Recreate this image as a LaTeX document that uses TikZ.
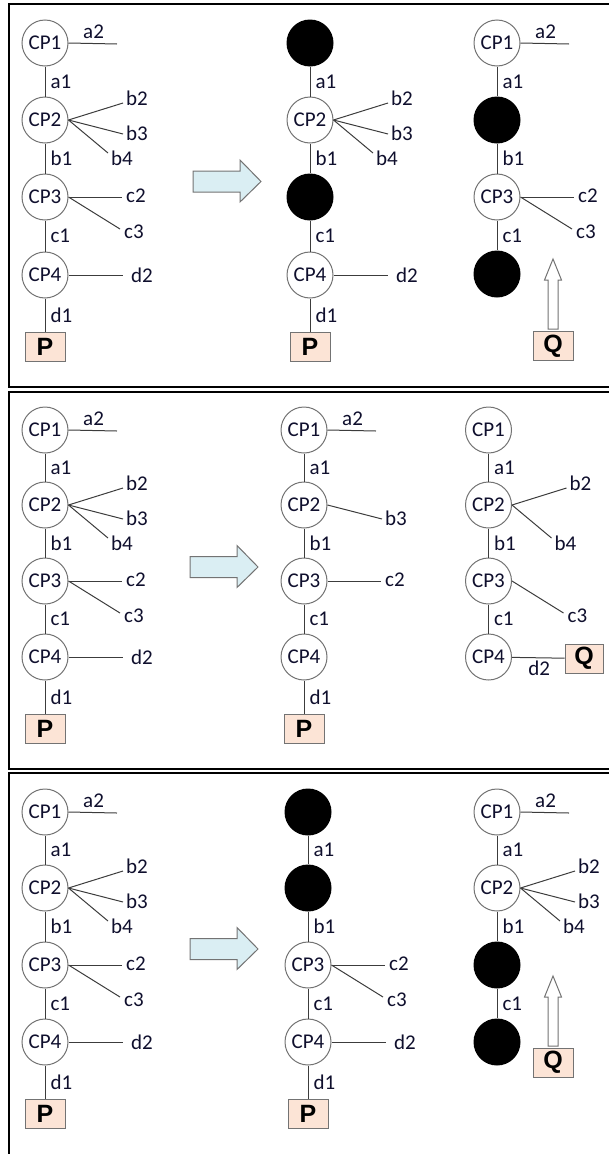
\documentclass[tikz,border=0pt]{standalone}
\usepackage{fontspec}
\setmainfont{Carlito}
\newfontfamily\bxfamily{Liberation Sans}
\usetikzlibrary{calc}
\definecolor{tcol}{RGB}{15,15,45}
\definecolor{cgray}{RGB}{115,115,115}
\definecolor{lgray}{RGB}{60,60,60}
\definecolor{peach}{RGB}{252,228,214}
\definecolor{lblue}{RGB}{218,238,243}
\newcommand\lbfont{\fontsize{21}{25}\selectfont}
\newcommand\bxfont{\bxfamily\bfseries\fontsize{25}{30}\selectfont}
\tikzset{
  cp/.style={circle, draw=cgray, line width=1pt, fill=white, minimum size=46pt, inner sep=0pt, text=tcol, font=\lbfont},
  blk/.style={circle, fill=black, minimum size=47pt, inner sep=0pt},
  lbl/.style={text=tcol, font=\lbfont, inner sep=1pt},
  ln/.style={draw=lgray, line width=1pt},
  pbox/.style={draw=cgray, line width=1pt, fill=peach, minimum width=40pt, minimum height=29pt, inner sep=0pt, font=\bxfont},
  barrow/.style={draw=cgray, line width=1pt, fill=lblue, line join=miter},
  uarrow/.style={draw=cgray, line width=1pt, fill=white, line join=miter},
  frame/.style={draw=black, line width=1.2pt}
}
% branch: node, id, end offset, label offset, text
\newcommand\br[5]{\coordinate (#2) at ($(#1)+(#3)$); \draw[ln] (#1.east) -- (#2); \node[lbl,anchor=west] (#2t) at ($(#1)+(#4)$) {#5};}
\newcommand\bA[2]{\br{#1}{#2}{72,1}{37,-11}{a2}}
\newcommand\bB[2]{\br{#1}{#2}{78,-17}{80,-22}{b2}}
\newcommand\bC[2]{\br{#1}{#2}{78,14}{80,13}{b3}}
\newcommand\bD[2]{\br{#1}{#2}{63,33}{65,38}{b4}}
\newcommand\bE[2]{\br{#1}{#2}{77,0}{80,-1}{c2}}
\newcommand\bF[2]{\br{#1}{#2}{75,32}{78,35}{c3}}
\newcommand\bG[2]{\br{#1}{#2}{78,0}{85,0}{d2}}
\newcommand\vl[3]{\draw[ln] (#1) -- node[lbl,anchor=west,xshift=4pt] (#1#2t) {#3} (#2);}
\newcommand\bigarrow[2]{\draw[barrow, shift={(#1,#2)}] (0,-10.5) -- (47,-10.5) -- (47,-21.5) -- (68,0) -- (47,20.5) -- (47,10.5) -- (0,10.5) -- cycle;}
\newcommand\uparr[2]{\draw[uarrow, shift={(#1,#2)}] (-5,0) -- (5,0) -- (5,-49) -- (8.5,-49) -- (0,-70) -- (-8.5,-49) -- (-5,-49) -- cycle;}
\begin{document}
\begin{tikzpicture}[x=1pt,y=-1pt]
\useasboundingbox (0,0) rectangle (609,1154);
% frames
\draw[frame] (615,4) -- (9,4) -- (9,387) -- (615,387);
\draw[frame] (615,392) -- (9,392) -- (9,769) -- (615,769);
\draw[frame] (615,773) -- (9,773) -- (9,1160);

% ===== Panel 1 =====
\node[cp] (A1) at (45,43) {CP1};
\node[cp] (A2) at (45,120) {CP2};
\node[cp] (A3) at (45,197) {CP3};
\node[cp] (A4) at (45,275) {CP4};
\node[pbox] (AP) at (45,346.5) {P};
\vl{A1}{A2}{a1}\vl{A2}{A3}{b1}\vl{A3}{A4}{c1}\vl{A4}{AP}{d1}
\bA{A1}{Aa}\bB{A2}{Ab}\bC{A2}{Ac}\bD{A2}{Ad}\bE{A3}{Ae}\bF{A3}{Af}\bG{A4}{Ag}

\bigarrow{193}{181.5}

\node[blk] (B1) at (310,43) {};
\node[cp] (B2) at (310,120) {CP2};
\node[blk] (B3) at (310,197) {};
\node[cp] (B4) at (310,275) {CP4};
\node[pbox] (BP) at (310,346.5) {P};
\vl{B1}{B2}{a1}\vl{B2}{B3}{b1}\vl{B3}{B4}{c1}\vl{B4}{BP}{d1}
\bB{B2}{Bb}\bC{B2}{Bc}\bD{B2}{Bd}\bG{B4}{Bg}

\node[cp] (C1) at (497,43) {CP1};
\node[blk] (C2) at (497,120) {};
\node[cp] (C3) at (497,197) {CP3};
\node[blk] (C4) at (497,274) {};
\vl{C1}{C2}{a1}\vl{C2}{C3}{b1}\vl{C3}{C4}{c1}
\bA{C1}{Ca}\bE{C3}{Ce}\bF{C3}{Cf}
\uparr{553}{329}
\node[pbox] (CQ) at (553,346) {Q};

% ===== Panel 2 =====
\node[cp] (D1) at (45,430) {CP1};
\node[cp] (D2) at (45,505) {CP2};
\node[cp] (D3) at (45,581) {CP3};
\node[cp] (D4) at (45,657) {CP4};
\node[pbox] (DP) at (45,728.5) {P};
\vl{D1}{D2}{a1}\vl{D2}{D3}{b1}\vl{D3}{D4}{c1}\vl{D4}{DP}{d1}
\bA{D1}{Da}\bB{D2}{Db}\bC{D2}{Dc}\bD{D2}{Dd}\bE{D3}{De}\bF{D3}{Df}\bG{D4}{Dg}

\bigarrow{190}{567}

\node[cp] (E1) at (304,430) {CP1};
\node[cp] (E2) at (304,505) {CP2};
\node[cp] (E3) at (304,581) {CP3};
\node[cp] (E4) at (304,657) {CP4};
\node[pbox] (EP) at (304,728.5) {P};
\vl{E1}{E2}{a1}\vl{E2}{E3}{b1}\vl{E3}{E4}{c1}\vl{E4}{EP}{d1}
\bA{E1}{Ea}\bC{E2}{Ec}\bE{E3}{Ee}

\node[cp] (F1) at (488.5,430) {CP1};
\node[cp] (F2) at (488.5,505) {CP2};
\node[cp] (F3) at (488.5,581) {CP3};
\node[cp] (F4) at (488.5,657) {CP4};
\node[pbox,minimum width=38pt] (FQ) at (584,658.5) {Q};
\vl{F1}{F2}{a1}\vl{F2}{F3}{b1}\vl{F3}{F4}{c1}
\bB{F2}{Fb}\bD{F2}{Fd}\bF{F3}{Ff}
\draw[ln] (F4) -- node[lbl,below,xshift=1pt,yshift=-2pt] (F4FQt) {d2} (FQ);

% ===== Panel 3 =====
\node[cp] (G1) at (45,812) {CP1};
\node[cp] (G2) at (45,888) {CP2};
\node[cp] (G3) at (45,965) {CP3};
\node[cp] (G4) at (45,1042) {CP4};
\node[pbox] (GP) at (45,1114) {P};
\vl{G1}{G2}{a1}\vl{G2}{G3}{b1}\vl{G3}{G4}{c1}\vl{G4}{GP}{d1}
\bA{G1}{Ga}\bB{G2}{Gb}\bC{G2}{Gc}\bD{G2}{Gd}\bE{G3}{Ge}\bF{G3}{Gf}\bG{G4}{Gg}

\bigarrow{190}{949}

\node[blk] (H1) at (308,812) {};
\node[blk] (H2) at (308,888) {};
\node[cp] (H3) at (308,965) {CP3};
\node[cp] (H4) at (308,1042) {CP4};
\node[pbox] (HP) at (308,1114) {P};
\vl{H1}{H2}{a1}\vl{H2}{H3}{b1}\vl{H3}{H4}{c1}\vl{H4}{HP}{d1}
\bE{H3}{He}\bF{H3}{Hf}\bG{H4}{Hg}

\node[cp] (I1) at (497,812) {CP1};
\node[cp] (I2) at (497,888) {CP2};
\node[blk] (I3) at (497,965) {};
\node[blk] (I4) at (497,1042) {};
\vl{I1}{I2}{a1}\vl{I2}{I3}{b1}\vl{I3}{I4}{c1}
\bA{I1}{Ia}\bB{I2}{Ib}\bC{I2}{Ic}\bD{I2}{Id}
\uparr{553}{1046}
\node[pbox] (IQ) at (553,1062.5) {Q};
\end{tikzpicture}
\end{document}
